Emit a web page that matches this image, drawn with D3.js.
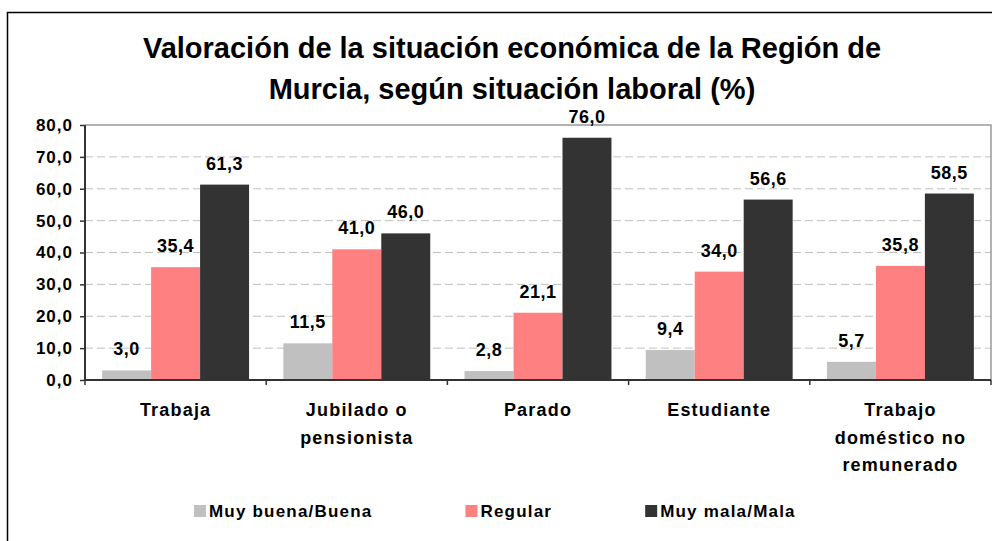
<!DOCTYPE html>
<html lang="es">
<head>
  <meta charset="UTF-8">
  <title>Valoración de la situación económica</title>
  <script src="https://d3js.org/d3.v7.min.js"></script>
  <style>
    body { margin: 0; background: #fff; font-family: "Liberation Sans", Arial, sans-serif; }
    svg text { font-weight: bold; fill: #000; }
  </style>
</head>
<body>
  <svg width="992" height="541"></svg>
  <script>
    // categorías y series
    const categories = [
      ["Trabaja"],
      ["Jubilado o", "pensionista"],
      ["Parado"],
      ["Estudiante"],
      ["Trabajo", "doméstico no", "remunerado"]
    ];
    const series = ["Muy buena/Buena", "Regular", "Muy mala/Mala"];
    const colors = ["#c0c0c0", "#ff8080", "#333333"];
    const buena = [3.0, 11.5, 2.8, 9.4, 5.7];
    const regular = [35.4, 41.0, 21.1, 34.0, 35.8];
    const mala = [61.3, 46.0, 76.0, 56.6, 58.5];
    const yTicks = [0, 10, 20, 30, 40, 50, 60, 70, 80];
    const titleLines = ["Valoración de la situación económica de la Región de", "Murcia, según situación laboral (%)"];

    const values = [buena, regular, mala];
    const svg = d3.select("svg");
    const fmt = d => d.toFixed(1).replace(".", ",");

    // marco exterior
    svg.append("rect")
      .attr("x", 7.5).attr("y", 12.5)
      .attr("width", 1000).attr("height", 600)
      .attr("fill", "none").attr("stroke", "#000").attr("stroke-width", 1.5);

    const plotL = 85, plotR = 991, plotT = 125, plotB = 380;

    const x0 = d3.scaleBand().domain(d3.range(categories.length)).range([plotL, plotR]);
    const x1 = d3.scaleBand().domain(d3.range(series.length)).range([0, x0.bandwidth()])
      .paddingInner(0).paddingOuter(0.35);
    const y = d3.scaleLinear().domain([0, 80]).range([plotB, plotT]);

    // rejilla
    svg.append("g").selectAll("line")
      .data(yTicks.filter(t => t > 0 && t < 80))
      .join("line")
      .attr("x1", plotL).attr("x2", plotR)
      .attr("y1", d => y(d)).attr("y2", d => y(d))
      .attr("stroke", "#c0c0c0").attr("stroke-dasharray", "8,4");

    // borde del área de trazado
    svg.append("path")
      .attr("d", `M${plotL},${plotT}H${plotR}V${plotB}`)
      .attr("fill", "none").attr("stroke", "#999").attr("stroke-width", 1.5);

    // barras
    const groups = svg.append("g").selectAll("g")
      .data(categories.map((c, i) => i))
      .join("g")
      .attr("transform", i => `translate(${x0(i)},0)`);

    groups.selectAll("rect")
      .data(i => values.map((v, s) => ({ s, v: v[i] })))
      .join("rect")
      .attr("x", d => x1(d.s))
      .attr("width", x1.bandwidth())
      .attr("y", d => y(d.v))
      .attr("height", d => y(0) - y(d.v))
      .attr("fill", d => colors[d.s]);

    groups.selectAll("text")
      .data(i => values.map((v, s) => ({ s, v: v[i] })))
      .join("text")
      .attr("x", d => x1(d.s) + x1.bandwidth() / 2)
      .attr("y", d => y(d.v) - 15)
      .attr("text-anchor", "middle")
      .style("font-size", "18px")
      .style("letter-spacing", "0.5px")
      .text(d => fmt(d.v));

    // eje Y
    const yAxis = svg.append("g")
      .attr("transform", `translate(${plotL},0)`)
      .call(d3.axisLeft(y).tickValues(yTicks).tickFormat(fmt).tickSize(5).tickPadding(7));
    yAxis.select(".domain").remove();
    yAxis.selectAll("line").attr("stroke", "#333").attr("stroke-width", 1.5);
    yAxis.selectAll("text")
      .style("font-size", "17px").style("letter-spacing", "1px")
      .style("font-family", "Liberation Sans, Arial, sans-serif");
    svg.append("line")
      .attr("x1", plotL).attr("x2", plotL).attr("y1", plotT).attr("y2", plotB)
      .attr("stroke", "#333").attr("stroke-width", 2);

    // eje X
    svg.append("line")
      .attr("x1", plotL).attr("x2", plotR).attr("y1", plotB).attr("y2", plotB)
      .attr("stroke", "#333").attr("stroke-width", 2);
    svg.append("g").selectAll("line")
      .data(d3.range(categories.length + 1))
      .join("line")
      .attr("x1", i => plotL + i * x0.step()).attr("x2", i => plotL + i * x0.step())
      .attr("y1", plotB).attr("y2", plotB + 5)
      .attr("stroke", "#333").attr("stroke-width", 1.5);

    const catText = svg.append("g").selectAll("text")
      .data(categories)
      .join("text")
      .attr("text-anchor", "middle")
      .style("font-size", "18px")
      .style("letter-spacing", "1.2px");
    catText.selectAll("tspan")
      .data((d, i) => d.map((line, k) => ({ line, k, i })))
      .join("tspan")
      .attr("x", d => x0(d.i) + x0.bandwidth() / 2)
      .attr("y", d => 416 + d.k * 27.5)
      .text(d => d.line);

    // título
    svg.append("g").selectAll("text")
      .data(titleLines)
      .join("text")
      .attr("x", 512)
      .attr("y", (d, i) => 58 + i * 41)
      .attr("text-anchor", "middle")
      .style("font-size", "29px")
      .text(d => d);

    // leyenda
    let lx = 194;
    series.forEach((s, i) => {
      svg.append("rect")
        .attr("x", lx).attr("y", 505)
        .attr("width", 12).attr("height", 12)
        .attr("fill", colors[i]);
      const t = svg.append("text")
        .attr("x", lx + 15).attr("y", 517)
        .style("font-size", "17px")
        .style("letter-spacing", "1.2px")
        .text(s);
      lx += 15 + t.node().getComputedTextLength() + 93;
    });
  </script>
</body>
</html>
